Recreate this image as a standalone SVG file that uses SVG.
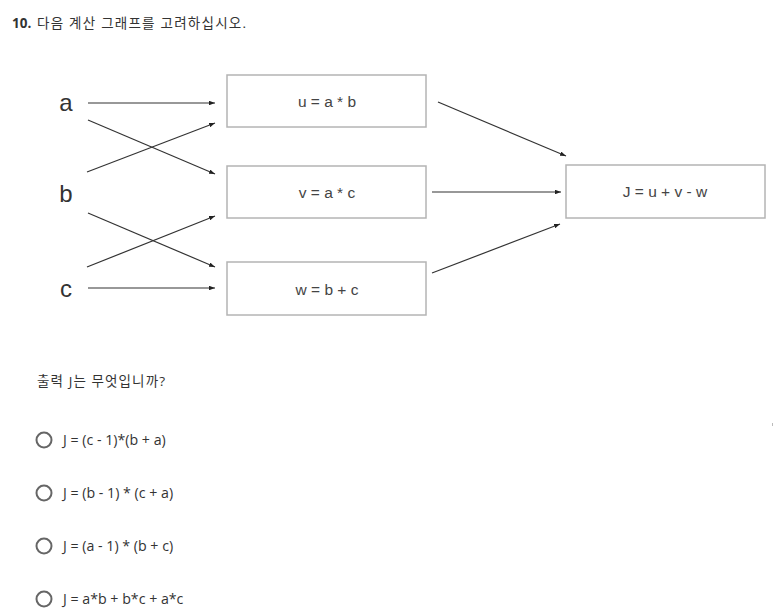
<svg xmlns="http://www.w3.org/2000/svg" width="774" height="616" viewBox="0 0 774 616">
<style>
.q{font-family:"Open Sans","Noto Sans CJK KR",sans-serif;font-size:13.5px;fill:#333}
.opt{font-family:"Open Sans","Noto Sans CJK KR",sans-serif;font-size:14.2px;fill:#333}
.var{font-family:"Liberation Sans",Arial,sans-serif;font-size:24px;fill:#333;text-anchor:middle}
.box rect{fill:#fff;stroke:#b4b4b4;stroke-width:1.5}
.box text{font-family:"Liberation Sans",Arial,sans-serif;font-size:15.5px;fill:#444;text-anchor:middle}
.edges line{stroke:#333;stroke-width:1.2;marker-end:url(#ah)}
.radio{fill:none;stroke:#666;stroke-width:2}
</style>
<defs>
<marker id="ah" viewBox="0 0 8 6" refX="8" refY="3" markerWidth="6" markerHeight="4.5" markerUnits="userSpaceOnUse" orient="auto">
<path d="M0,0 L8,3 L0,6 z" fill="#222"/>
</marker>
</defs>
<rect width="774" height="616" fill="#fff"/>
<text x="12" y="28" class="q"><tspan font-weight="bold">10.</tspan><tspan x="37" textLength="209" lengthAdjust="spacing">다음 계산 그래프를 고려하십시오.</tspan></text>

<g id="node-a"><text x="66" y="111" class="var">a</text></g>
<g id="node-b"><text x="66" y="202" class="var">b</text></g>
<g id="node-c"><text x="66" y="297" class="var">c</text></g>

<g id="node-u" class="box"><rect x="227" y="75" width="199" height="52"/><text x="327" y="107">u = a * b</text></g>
<g id="node-v" class="box"><rect x="227" y="166" width="199" height="52"/><text x="327" y="198">v = a * c</text></g>
<g id="node-w" class="box"><rect x="227" y="262" width="199" height="53"/><text x="327" y="295">w = b + c</text></g>
<g id="node-J" class="box"><rect x="566" y="165" width="199" height="53"/><text x="665" y="197">J = u + v - w</text></g>

<g id="edges" class="edges">
<line x1="88" y1="103" x2="215" y2="103"/>
<line x1="88" y1="120" x2="215" y2="174"/>
<line x1="87" y1="172" x2="215" y2="123"/>
<line x1="88" y1="213" x2="215" y2="267"/>
<line x1="87" y1="267" x2="215" y2="216"/>
<line x1="88" y1="288" x2="215" y2="288"/>
<line x1="438" y1="102" x2="566" y2="156"/>
<line x1="432" y1="192" x2="561" y2="192"/>
<line x1="432" y1="273" x2="560" y2="224"/>
</g>

<text x="37" y="386" class="q" textLength="128" lengthAdjust="spacing">출력 J는 무엇입니까?</text>

<circle cx="44" cy="440" r="7.5" class="radio"/>
<text x="63" y="445" class="opt">J = (c - 1)*(b + a)</text>
<circle cx="44" cy="493" r="7.5" class="radio"/>
<text x="63" y="498" class="opt">J = (b - 1) * (c + a)</text>
<circle cx="44" cy="546" r="7.5" class="radio"/>
<text x="63" y="551" class="opt">J = (a - 1) * (b + c)</text>
<circle cx="44" cy="599" r="7.5" class="radio"/>
<text x="63" y="604" class="opt">J = a*b + b*c + a*c</text>
<rect x="772" y="423" width="1" height="3" fill="#bbb"/>
</svg>
